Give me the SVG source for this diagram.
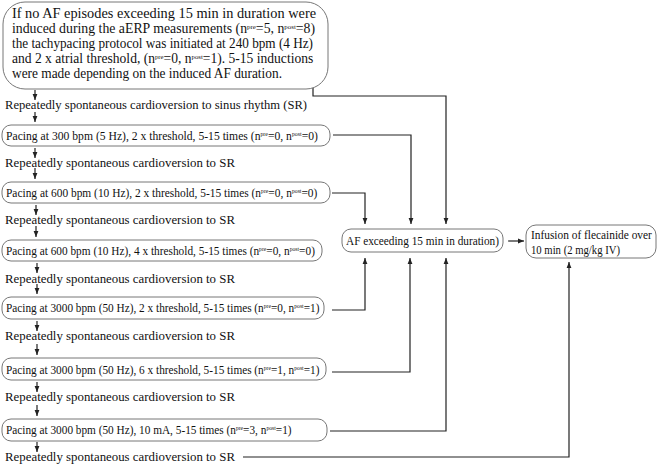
<svg xmlns="http://www.w3.org/2000/svg" width="659" height="464" viewBox="0 0 659 464">
<style>
text{font-family:"Liberation Serif","Times New Roman",serif;font-size:12.5px;fill:#111}
.top{font-size:14px}
.pc{font-size:13px}
.sup{font-size:6.5px}
.top .sup{font-size:7px}
.box{fill:#fff;stroke:#777;stroke-width:1}
.ln{fill:none;stroke:#222;stroke-width:1.2}
</style>
<defs>
<marker id="ah" viewBox="0 0 10 10" refX="10" refY="5" markerWidth="6" markerHeight="6" orient="auto" markerUnits="userSpaceOnUse">
<path d="M0,1 L10,5 L0,9 Z" fill="#222"/>
</marker>
</defs>
<rect width="659" height="464" fill="#fff"/>
<g id="connectors">
<path class="ln" d="M313,88 V96 H446 V224" marker-end="url(#ah)"/>
<path class="ln" d="M35,90 V100" marker-end="url(#ah)"/>
<path class="ln" d="M35,112 V122" marker-end="url(#ah)"/>
<path class="ln" d="M35,148 V158" marker-end="url(#ah)"/>
<path class="ln" d="M35,168 V179" marker-end="url(#ah)"/>
<path class="ln" d="M36,205 V215" marker-end="url(#ah)"/>
<path class="ln" d="M36,226 V237" marker-end="url(#ah)"/>
<path class="ln" d="M37,263 V273" marker-end="url(#ah)"/>
<path class="ln" d="M37,284 V294" marker-end="url(#ah)"/>
<path class="ln" d="M37,321 V331" marker-end="url(#ah)"/>
<path class="ln" d="M37,344 V355" marker-end="url(#ah)"/>
<path class="ln" d="M37,382 V392" marker-end="url(#ah)"/>
<path class="ln" d="M37,405 V416" marker-end="url(#ah)"/>
<path class="ln" d="M37,442 V452" marker-end="url(#ah)"/>
<path class="ln" d="M333,135 H411 V224" marker-end="url(#ah)"/>
<path class="ln" d="M332,193 H365 V224" marker-end="url(#ah)"/>
<path class="ln" d="M332,310 H365 V258" marker-end="url(#ah)"/>
<path class="ln" d="M332,372 H410 V258" marker-end="url(#ah)"/>
<path class="ln" d="M330,431 H446 V258" marker-end="url(#ah)"/>
<path class="ln" d="M508,241 H524" marker-end="url(#ah)"/>
<path class="ln" d="M243,457 H569 V262" marker-end="url(#ah)"/>
</g>
<g id="start">
<rect class="box" x="3" y="2" width="325" height="87" rx="22"/>
<text class="top" x="12" y="18" textLength="304" lengthAdjust="spacingAndGlyphs">If no AF episodes exceeding 15 min in duration were</text>
<text class="top" transform="translate(12,33) scale(0.986,1)">induced during the aERP measurements (n<tspan class="sup" dy="-4.5">pre</tspan><tspan dy="4.5">=5, n</tspan><tspan class="sup" dy="-4.5">post</tspan><tspan dy="4.5">=8)</tspan></text>
<text class="top" x="12" y="48" textLength="301" lengthAdjust="spacingAndGlyphs">the tachypacing protocol was initiated at 240 bpm (4 Hz)</text>
<text class="top" transform="translate(12,63) scale(0.969,1)">and 2 x atrial threshold, (n<tspan class="sup" dy="-4.5">pre</tspan><tspan dy="4.5">=0, n</tspan><tspan class="sup" dy="-4.5">post</tspan><tspan dy="4.5">=1). 5-15 inductions</tspan></text>
<text class="top" x="12" y="78" textLength="270" lengthAdjust="spacingAndGlyphs">were made depending on the induced AF duration.</text>
</g>
<g id="sr1"><text x="5" y="109" textLength="302" lengthAdjust="spacingAndGlyphs">Repeatedly spontaneous cardioversion to sinus rhythm (SR)</text></g>
<g id="p1">
<rect class="box" x="2" y="125" width="328" height="21" rx="9"/>
<text class="pc" transform="translate(6,140) scale(0.897,1)">Pacing at 300 bpm (5 Hz), 2 x threshold, 5-15 times (n<tspan class="sup" dy="-4">pre</tspan><tspan dy="4">=0, n</tspan><tspan class="sup" dy="-4">post</tspan><tspan dy="4">=0)</tspan></text>
</g>
<g id="sr2"><text x="5" y="167" textLength="230" lengthAdjust="spacingAndGlyphs">Repeatedly spontaneous cardioversion to SR</text></g>
<g id="p2">
<rect class="box" x="2" y="182" width="328" height="21" rx="9"/>
<text class="pc" transform="translate(6,197) scale(0.879,1)">Pacing at 600 bpm (10 Hz), 2 x threshold, 5-15 times (n<tspan class="sup" dy="-4">pre</tspan><tspan dy="4">=0, n</tspan><tspan class="sup" dy="-4">post</tspan><tspan dy="4">=0)</tspan></text>
</g>
<g id="sr3"><text x="5" y="224" textLength="230" lengthAdjust="spacingAndGlyphs">Repeatedly spontaneous cardioversion to SR</text></g>
<g id="p3">
<rect class="box" x="2" y="240" width="320" height="21" rx="9"/>
<text class="pc" transform="translate(6,255) scale(0.871,1)">Pacing at 600 bpm (10 Hz), 4 x threshold, 5-15 times (n<tspan class="sup" dy="-4">pre</tspan><tspan dy="4">=0, n</tspan><tspan class="sup" dy="-4">post</tspan><tspan dy="4">=0)</tspan></text>
</g>
<g id="sr4"><text x="5" y="283" textLength="230" lengthAdjust="spacingAndGlyphs">Repeatedly spontaneous cardioversion to SR</text></g>
<g id="p4">
<rect class="box" x="2" y="297" width="322" height="22" rx="9"/>
<text class="pc" transform="translate(6,312) scale(0.869,1)">Pacing at 3000 bpm (50 Hz), 2 x threshold, 5-15 times (n<tspan class="sup" dy="-4">pre</tspan><tspan dy="4">=0, n</tspan><tspan class="sup" dy="-4">post</tspan><tspan dy="4">=1)</tspan></text>
</g>
<g id="sr5"><text x="5" y="340" textLength="230" lengthAdjust="spacingAndGlyphs">Repeatedly spontaneous cardioversion to SR</text></g>
<g id="p5">
<rect class="box" x="2" y="358" width="324" height="22" rx="9"/>
<text class="pc" transform="translate(6,374) scale(0.869,1)">Pacing at 3000 bpm (50 Hz), 6 x threshold, 5-15 times (n<tspan class="sup" dy="-4">pre</tspan><tspan dy="4">=1, n</tspan><tspan class="sup" dy="-4">post</tspan><tspan dy="4">=1)</tspan></text>
</g>
<g id="sr6"><text x="5" y="401" textLength="230" lengthAdjust="spacingAndGlyphs">Repeatedly spontaneous cardioversion to SR</text></g>
<g id="p6">
<rect class="box" x="2" y="419" width="325" height="22" rx="9"/>
<text class="pc" transform="translate(6,434) scale(0.869,1)">Pacing at 3000 bpm (50 Hz), 10 mA, 5-15 times (n<tspan class="sup" dy="-4">pre</tspan><tspan dy="4">=3, n</tspan><tspan class="sup" dy="-4">post</tspan><tspan dy="4">=1)</tspan></text>
</g>
<g id="sr7"><text x="5" y="461" textLength="230" lengthAdjust="spacingAndGlyphs">Repeatedly spontaneous cardioversion to SR</text></g>
<g id="af">
<rect class="box" x="342" y="229" width="161" height="23" rx="9"/>
<text x="346" y="245" textLength="153" lengthAdjust="spacingAndGlyphs">AF exceeding 15 min in duration)</text>
</g>
<g id="infusion">
<rect class="box" x="526" y="225" width="130" height="33" rx="10"/>
<text transform="translate(531,239) scale(0.91,1)">Infusion of flecainide over</text>
<text x="531" y="254" textLength="89" lengthAdjust="spacingAndGlyphs">10 min (2 mg/kg IV)</text>
</g>
</svg>
